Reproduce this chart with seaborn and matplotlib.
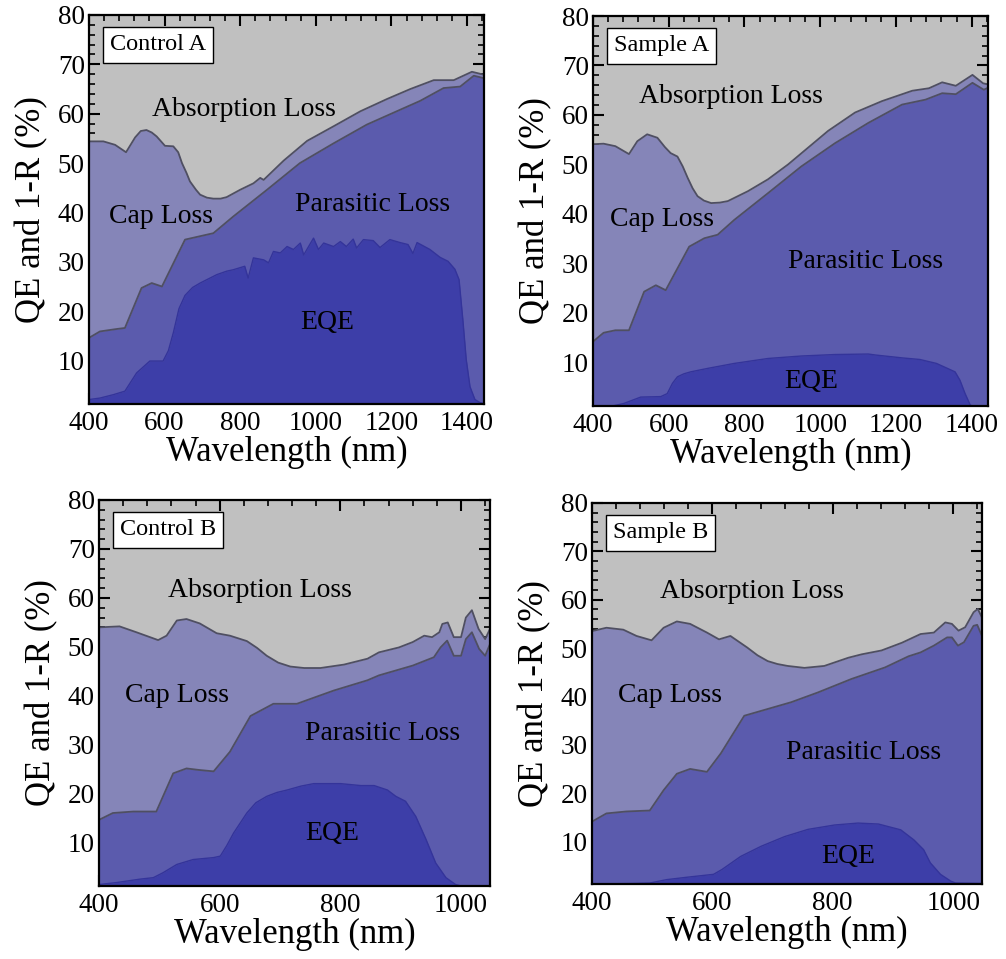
import numpy as np
import pandas as pd
import matplotlib
matplotlib.use("Agg")
import matplotlib.pyplot as plt
from matplotlib.ticker import MultipleLocator
import seaborn as sns

# ---------------- data (wavelength nm, value %) ----------------
# Control A
ctrlA_top_wl = [400, 438, 469, 498, 522, 537, 552, 566, 579, 601, 623, 636, 646, 658, 667, 683, 694, 712, 729, 748, 764,
                800, 835, 853, 862, 915, 977, 1048, 1118, 1189, 1250, 1312, 1365, 1413, 1445]
ctrlA_top = [54.4, 54.4, 53.7, 52.2, 55.2, 56.5, 56.7, 56.2, 55.4, 53.5, 53.4, 52.2, 50.0, 48.0, 46.3, 44.6, 43.6, 43.0, 42.8, 42.8, 43.1,
             44.6, 45.9, 47.0, 46.6, 50.5, 54.5, 57.5, 60.5, 63.0, 65.0, 66.8, 66.8, 68.5, 67.9]
ctrlA_par_wl = [400, 429, 474, 495, 539, 566, 593, 654, 729, 782, 871, 958, 1047, 1135, 1223, 1276, 1338, 1382, 1418, 1445]
ctrlA_par = [14.6, 15.9, 16.4, 16.6, 24.7, 25.7, 25.0, 34.5, 35.8, 39.2, 44.6, 50.0, 54.0, 57.8, 60.8, 62.6, 65.2, 65.5, 67.7, 67.2]
ctrlA_eqe_wl = [400, 429, 465, 495, 526, 561, 596, 610, 623, 638, 654, 674, 694, 738, 764, 782, 812, 821, 835, 862, 875, 888, 906,
                924, 941, 959, 968, 994, 1007, 1021, 1047, 1065, 1081, 1099, 1108, 1126, 1152, 1170, 1196, 1223, 1244,
                1257, 1268, 1302, 1329, 1350, 1368, 1379, 1389, 1398, 1408, 1421, 1434, 1445]
ctrlA_eqe = [2.1, 2.4, 3.1, 3.8, 7.5, 9.9, 9.9, 12.0, 15.6, 20.5, 23.2, 24.8, 25.7, 27.4, 28.1, 28.4, 29.1, 26.7, 30.8, 30.4, 29.8, 32.1, 31.8,
             33.1, 32.5, 33.8, 31.4, 34.8, 32.5, 33.8, 33.1, 34.1, 33.1, 34.6, 32.8, 34.5, 34.3, 32.9, 34.5, 33.9, 33.5,
             31.7, 33.9, 32.5, 30.9, 30.1, 28.5, 26.4, 18.3, 10.2, 4.7, 2.1, 1.5, 1.3]

# Sample A
smpA_top_wl = [400, 428, 459, 495, 517, 543, 570, 590, 605, 623, 637, 650, 663, 676, 693, 712, 735, 756, 809, 862, 915, 968,
               1021, 1092, 1163, 1243, 1287, 1322, 1358, 1402, 1430, 1443]
smpA_top = [54.1, 54.2, 53.7, 52.1, 54.7, 56.1, 55.4, 53.5, 52.3, 51.6, 49.6, 47.3, 45.2, 43.6, 42.7, 42.2, 42.3, 42.6, 44.6, 47.0, 50.0, 53.4,
            56.8, 60.5, 62.8, 64.9, 65.4, 66.6, 65.9, 68.1, 66.4, 66.2]
smpA_par_wl = [400, 428, 459, 495, 535, 566, 592, 654, 694, 729, 773, 862, 950, 1039, 1127, 1216, 1278, 1322, 1358,
               1402, 1432, 1443]
smpA_par = [14.2, 16.0, 16.5, 16.5, 24.3, 25.6, 24.6, 33.4, 35.1, 35.8, 38.8, 44.2, 49.6, 54.3, 58.4, 62.1, 63.1, 64.4, 64.2,
            66.5, 65.1, 65.5]
smpA_eqe_wl = [400, 446, 481, 526, 579, 596, 610, 623, 640, 658, 703, 773, 862, 950, 1039, 1127, 1146, 1219, 1263, 1307, 1356,
               1369, 1382, 1396, 1409, 1443]
smpA_eqe = [1.0, 1.1, 1.7, 3.0, 3.1, 3.7, 5.8, 7.1, 7.7, 8.1, 8.8, 9.8, 10.8, 11.3, 11.6, 11.7, 11.5, 10.9, 10.6, 9.8, 8.1,
            6.4, 3.8, 1.4, 0.9, 0.9]

# Control B
ctrlB_top_wl = [400, 434, 462, 498, 512, 529, 545, 567, 595, 617, 645, 662, 678, 697, 717, 740, 767, 806, 845, 864, 897, 920, 939,
                952, 964, 969, 978, 988, 1000, 1008, 1018, 1029, 1040, 1048]
ctrlB_top = [54.0, 54.2, 53.0, 51.4, 52.3, 55.4, 55.7, 54.8, 52.8, 52.3, 51.2, 49.8, 48.2, 46.8, 46.0, 45.7, 45.7, 46.4, 47.6, 48.9, 49.9, 51.0, 52.3,
             52.0, 53.0, 54.7, 55.0, 52.0, 52.0, 56.0, 57.5, 53.7, 51.6, 53.7]
ctrlB_par_wl = [400, 423, 457, 495, 523, 545, 565, 590, 617, 651, 689, 728, 789, 845, 864, 920, 955, 966, 977, 988,
                1000, 1008, 1018, 1030, 1040, 1048]
ctrlB_par = [14.7, 16.1, 16.4, 16.4, 24.2, 25.2, 24.9, 24.6, 28.6, 35.9, 38.4, 38.4, 41.1, 43.2, 44.2, 46.2, 47.9, 49.9, 51.3, 48.2,
             48.2, 51.6, 53.0, 49.6, 48.2, 50.6]
ctrlB_eqe_wl = [400, 429, 468, 490, 506, 529, 556, 590, 601, 612, 623, 645, 660, 678, 695, 712, 735, 756, 800, 834, 856, 878, 892, 908,
                925, 942, 958, 975, 991, 1000, 1048]
ctrlB_eqe = [1.5, 1.9, 2.6, 2.9, 3.9, 5.6, 6.6, 7.0, 7.3, 9.5, 12.0, 16.1, 18.2, 19.5, 20.3, 20.8, 21.6, 22.1, 22.1, 21.7, 21.7, 20.8, 19.5, 18.5,
             15.4, 10.7, 5.9, 2.9, 1.5, 1.2, 1.2]

# Sample B
smpB_top_wl = [400, 424, 452, 474, 499, 519, 541, 563, 591, 611, 630, 658, 675, 692, 708, 725, 753, 786, 826, 848, 881, 915,
               946, 968, 987, 998, 1009, 1020, 1034, 1041, 1048]
smpB_top = [53.5, 54.2, 53.8, 52.5, 51.6, 54.2, 55.5, 55.0, 53.2, 51.8, 52.5, 50.1, 48.5, 47.3, 46.7, 46.3, 45.9, 46.3, 48.0, 48.7, 49.5, 51.1,
            52.9, 53.2, 55.3, 55.0, 53.6, 54.3, 57.4, 58.1, 56.3]
smpB_par_wl = [400, 424, 457, 496, 519, 541, 563, 591, 614, 653, 692, 731, 775, 831, 887, 926, 946, 968, 990, 998,
               1008, 1018, 1034, 1040, 1048]
smpB_par = [14.1, 15.8, 16.2, 16.4, 20.6, 24.0, 25.0, 24.4, 28.2, 36.0, 37.4, 38.8, 40.8, 43.6, 46.0, 48.3, 49.1, 50.5, 52.2, 52.2,
            50.5, 51.2, 54.6, 54.8, 52.5]
smpB_eqe_wl = [400, 469, 496, 524, 558, 602, 616, 647, 681, 720, 759, 803, 842, 876, 913, 935, 951, 962, 979, 996,
               1004, 1048]
smpB_eqe = [1.2, 1.3, 1.4, 2.1, 2.6, 3.2, 4.2, 6.9, 9.0, 11.0, 12.5, 13.4, 13.8, 13.6, 12.4, 10.3, 8.3, 5.6, 3.2, 1.8,
            1.4, 1.3]

panel_titles = ["Control A", "Sample A", "Control B", "Sample B"]
region_labels = ["Absorption Loss", "Cap Loss", "Parasitic Loss", "EQE"]
xlabel = "Wavelength (nm)"
ylabel = "QE and 1-R (%)"

# ---------------- style ----------------
sns.set_theme(style="ticks")
plt.rcParams['font.family'] = ['Liberation Serif', 'DejaVu Serif']
plt.rcParams['text.color'] = 'black'
plt.rcParams['axes.labelcolor'] = 'black'
plt.rcParams['xtick.color'] = 'black'
plt.rcParams['ytick.color'] = 'black'
plt.rcParams['xtick.labelcolor'] = 'black'
plt.rcParams['ytick.labelcolor'] = 'black'

C_BG = "#c0c0c0"
C_CAP = "#8585b8"
C_PAR = "#5b5bad"
C_EQE = "#3d3ea8"
C_LINE = "#4f4f62"
C_EQE_LINE = "#34349a"

fig = plt.figure(figsize=(10.06, 9.59), dpi=100)
W, H = 1006, 959

def ax_at(l, t, r, b):
    return fig.add_axes([l / W, 1 - b / H, (r - l) / W, (b - t) / H])

panels = [
    dict(ax=ax_at(89, 15, 484, 404), xlim=(400, 1445), title=panel_titles[0],
         top=(ctrlA_top_wl, ctrlA_top), par=(ctrlA_par_wl, ctrlA_par), eqe=(ctrlA_eqe_wl, ctrlA_eqe),
         lbl=[(811, 60.8), (590, 39.2), (1150, 41.6), (1030, 17.8)]),
    dict(ax=ax_at(593, 16, 988, 406), xlim=(400, 1443), title=panel_titles[1],
         top=(smpA_top_wl, smpA_top), par=(smpA_par_wl, smpA_par), eqe=(smpA_eqe_wl, smpA_eqe),
         lbl=[(765, 63.8), (583, 38.8), (1120, 30.4), (975, 6.2)]),
    dict(ax=ax_at(99, 500, 490, 886), xlim=(400, 1048), title=panel_titles[2],
         top=(ctrlB_top_wl, ctrlB_top), par=(ctrlB_par_wl, ctrlB_par), eqe=(ctrlB_eqe_wl, ctrlB_eqe),
         lbl=[(667, 61.5), (530, 40.1), (870, 32.3), (787, 12.0)]),
    dict(ax=ax_at(592, 503, 982, 884), xlim=(400, 1048), title=panel_titles[3],
         top=(smpB_top_wl, smpB_top), par=(smpB_par_wl, smpB_par), eqe=(smpB_eqe_wl, smpB_eqe),
         lbl=[(665, 61.7), (529, 40.1), (851, 28.5), (825, 6.9)]),
]

YMIN, YMAX = 1.2, 80

for p in panels:
    ax = p["ax"]
    ax.set_facecolor(C_BG)
    for key, fc, lc, lw in [("top", C_CAP, C_LINE, 1.3), ("par", C_PAR, C_LINE, 1.3), ("eqe", C_EQE, C_EQE_LINE, 1.0)]:
        wl, val = p[key]
        df = pd.DataFrame({"wl": wl, "val": val})
        ax.fill_between(df["wl"], 0, df["val"], color=fc, linewidth=0, zorder=1)
        sns.lineplot(data=df, x="wl", y="val", ax=ax, color=lc, linewidth=lw, estimator=None,
                     sort=False, zorder=2, legend=False)
    ax.set_xlim(*p["xlim"])
    ax.set_ylim(YMIN, YMAX)
    ax.xaxis.set_major_locator(MultipleLocator(200))
    ax.xaxis.set_minor_locator(MultipleLocator(40))
    ax.yaxis.set_major_locator(MultipleLocator(10))
    ax.yaxis.set_minor_locator(MultipleLocator(2))
    ax.tick_params(which="both", direction="in", top=True, right=True, colors="black", zorder=5)
    ax.tick_params(which="major", length=8, width=1.5, labelsize=19.5, labelcolor="black")
    ax.tick_params(which="minor", length=4.5, width=1.2)
    ax.tick_params(axis="x", which="major", pad=5)
    ax.tick_params(axis="y", which="major", pad=3)
    for s in ax.spines.values():
        s.set_linewidth(1.6)
        s.set_color("black")
        s.set_zorder(6)
    ax.set_xlabel(xlabel, fontsize=25, labelpad=0, color="black")
    ax.set_ylabel(ylabel, fontsize=25, labelpad=7, color="black")
    for txt, (x, y) in zip(region_labels, p["lbl"]):
        ax.text(x, y, txt, fontsize=20, ha="center", va="center", color="black", zorder=4)
    ax.annotate(p["title"], xy=(0, 1), xycoords="axes fraction", xytext=(15, -14),
                textcoords="offset points", ha="left", va="top", fontsize=17.5, zorder=7, color="black",
                bbox=dict(boxstyle="square,pad=0.3", fc="white", ec="black", lw=1.0))

fig.savefig("out.png", dpi=100)
